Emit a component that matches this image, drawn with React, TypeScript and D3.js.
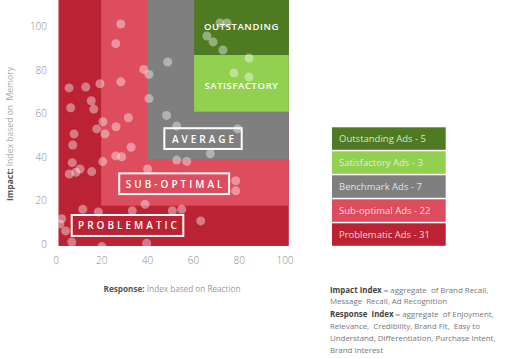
import React from 'react';
import * as d3 from 'd3';

// Legend categories
const categories = ['Outstanding Ads - 5', 'Satisfactory Ads - 3', 'Benchmark Ads - 7', 'Sub-optimal Ads - 22', 'Problematic Ads - 31'];
const catColors = ['#4e7a21', '#92d050', '#7f7f7f', '#dd4d5d', '#bb2233'];

// Zones (data space)
const zoneColors = ['#bb2233', '#dd4d5d', '#7f7f7f', '#92d050', '#4e7a21'];
const zoneX0 = [1, 19.7, 40.0, 60.3, 60.3];
const zoneY0 = [-0.9, 17.6, 38.9, 60.7, 86.7];
const zoneY1 = [112, 112, 112, 86.7, 112];
const plotX = [1, 101.7];
const plotY = [-0.9, 112];

// Ads: response index (x) and impact index (y)
const responseX = [
  28.3, 26.1, 48.8, 38.3, 40.6, 5.7, 13.0, 19.2, 28.3, 15.4,
  6.4, 16.5, 40.6, 20.5, 31.6, 48.3, 52.7, 26.2, 17.8, 79.3,
  21.4, 7.9, 7.3, 32.8, 26.1, 28.7, 20.4, 7.1, 15.6, 10.5,
  8.7, 5.8, 67.4, 52.7, 57.1, 40.0, 78.5, 78.5, 38.9, 11.7,
  18.5, 33.3, 50.8, 54.9, 63.2, 2.5, 1.7, 4.2, 6.9, 20.0,
  39.6, 71.6, 74.7, 65.9, 68.6, 72.9, 84.3, 77.7, 84.3,
];
const impactY = [
  100.9, 91.9, 83.5, 80.1, 77.8, 71.6, 72.0, 73.5, 74.4, 65.7,
  62.5, 61.9, 66.7, 56.1, 57.9, 59.0, 54.1, 53.8, 52.8, 52.8,
  50.5, 50.5, 45.4, 44.4, 40.4, 40.0, 37.8, 37.3, 33.2, 34.4,
  32.9, 32.1, 41.4, 38.5, 37.9, 34.4, 29.0, 24.4, 18.2, 15.9,
  14.7, 15.3, 15.3, 15.9, 10.6, 11.6, 9.2, 6.0, 0.9, -1.2,
  0.3, 101.4, 101.4, 95.4, 92.7, 89.0, 85.3, 78.4, 76.6,
];

const ticks = [0, 20, 40, 60, 80, 100];

// Plain zone labels (center)
const plainLabels = ['OUTSTANDING', 'SATISFACTORY'];
const plainLabelX = [81, 81];
const plainLabelY = [99.6, 72.9];

// Boxed zone labels (data box extents)
const boxLabels = ['AVERAGE', 'SUB-OPTIMAL', 'PROBLEMATIC'];
const boxX0 = [47.3, 27.6, 6.85];
const boxX1 = [81.1, 75.6, 55.6];
const boxY0 = [43.6, 22.9, 3.7];
const boxY1 = [53.1, 32.4, 13.3];

const footLines: [string, string][] = [
  ['Impact Index', ' = aggregate  of Brand Recall,'],
  ['', 'Message  Recall, Ad Recognition'],
  ['Response  Index', ' = aggregate  of Enjoyment,'],
  ['', 'Relevance,  Credibility, Brand Fit,  Easy to'],
  ['', 'Understand, Differentiation, Purchase Intent,'],
  ['', 'Brand Interest'],
];
const footY = [289.5, 300.5, 313.5, 325.5, 337.5, 349.5];

export default function App() {
  const W = 508, H = 359;
  const x = d3.scaleLinear().domain([0, 100]).range([56, 285]);
  const y = d3.scaleLinear().domain([0, 100]).range([244, 26]);
  const font = "'Open Sans', sans-serif";

  return (
    <svg width={W} height={H} style={{ position: 'absolute', left: 0, top: 0, background: '#fff' }} fontFamily={font}>
      <defs>
        <clipPath id="plotclip">
          <rect x={x(plotX[0])} y={y(plotY[1])} width={x(plotX[1]) - x(plotX[0])} height={y(plotY[0]) - y(plotY[1])} />
        </clipPath>
      </defs>
      <g clipPath="url(#plotclip)">
        {zoneColors.map((c, i) => (
          <rect key={i} x={x(zoneX0[i])} y={y(zoneY1[i])} width={x(plotX[1]) - x(zoneX0[i])}
            height={y(zoneY0[i]) - y(zoneY1[i])} fill={c} />
        ))}
        {plainLabels.map((t, i) => (
          <text key={t} x={x(plainLabelX[i])} y={y(plainLabelY[i])} textAnchor="middle" dominantBaseline="central"
            fill="#fff" fontSize={9.5} fontWeight={600} letterSpacing={0.6}>{t}</text>
        ))}
        {boxLabels.map((t, i) => (
          <g key={t}>
            <rect x={x(boxX0[i])} y={y(boxY1[i])} width={x(boxX1[i]) - x(boxX0[i])} height={y(boxY0[i]) - y(boxY1[i])}
              fill="none" stroke="#fff" strokeWidth={2} />
            <text x={(x(boxX0[i]) + x(boxX1[i])) / 2 + 1.5} y={(y(boxY0[i]) + y(boxY1[i])) / 2} textAnchor="middle"
              dominantBaseline="central" fill="#fff" fontSize={10} fontWeight={600} letterSpacing={3}>{t}</text>
          </g>
        ))}
        {responseX.map((v, i) => (
          <circle key={i} cx={x(v)} cy={y(impactY[i])} r={4.5} fill="#fff" fillOpacity={0.4} />
        ))}
      </g>
      {ticks.map(t => (
        <text key={'y' + t} x={47} y={y(t)} textAnchor="end" dominantBaseline="central" fill="#8a8a8a" fontSize={10} fontWeight={300}>{t}</text>
      ))}
      {ticks.map(t => (
        <text key={'x' + t} x={x(t)} y={260} textAnchor="middle" dominantBaseline="central" fill="#8a8a8a" fontSize={10} fontWeight={300}>{t}</text>
      ))}
      <text transform={`translate(10,134) rotate(-90)`} textAnchor="middle" dominantBaseline="central" fontSize={8.6} xmlSpace="preserve">
        <tspan fill="#555" fontWeight={700}>Impact:</tspan>
        <tspan fill="#aaa"> Index based on  Memory</tspan>
      </text>
      <text x={172} y={288} textAnchor="middle" dominantBaseline="central" fontSize={8.2}>
        <tspan fill="#555" fontWeight={700}>Response:</tspan>
        <tspan fill="#999"> Index based on Reaction</tspan>
      </text>
      {categories.map((c, i) => (
        <g key={c}>
          <rect x={332} y={127.3 + i * 24} width={113.7} height={22.5} fill={catColors[i]} />
          <text x={339} y={127.3 + i * 24 + 11.5} dominantBaseline="central" fill="#f0f0f0" fillOpacity={0.9} fontSize={9.5}>{c}</text>
        </g>
      ))}
      {footLines.map((l, i) => (
        <text key={i} x={330} y={footY[i]} fontSize={7.9} dominantBaseline="central" xmlSpace="preserve">
          {l[0] && <tspan fill="#444" fontWeight={700}>{l[0]}</tspan>}
          <tspan fill="#777">{l[1]}</tspan>
        </text>
      ))}
    </svg>
  );
}
